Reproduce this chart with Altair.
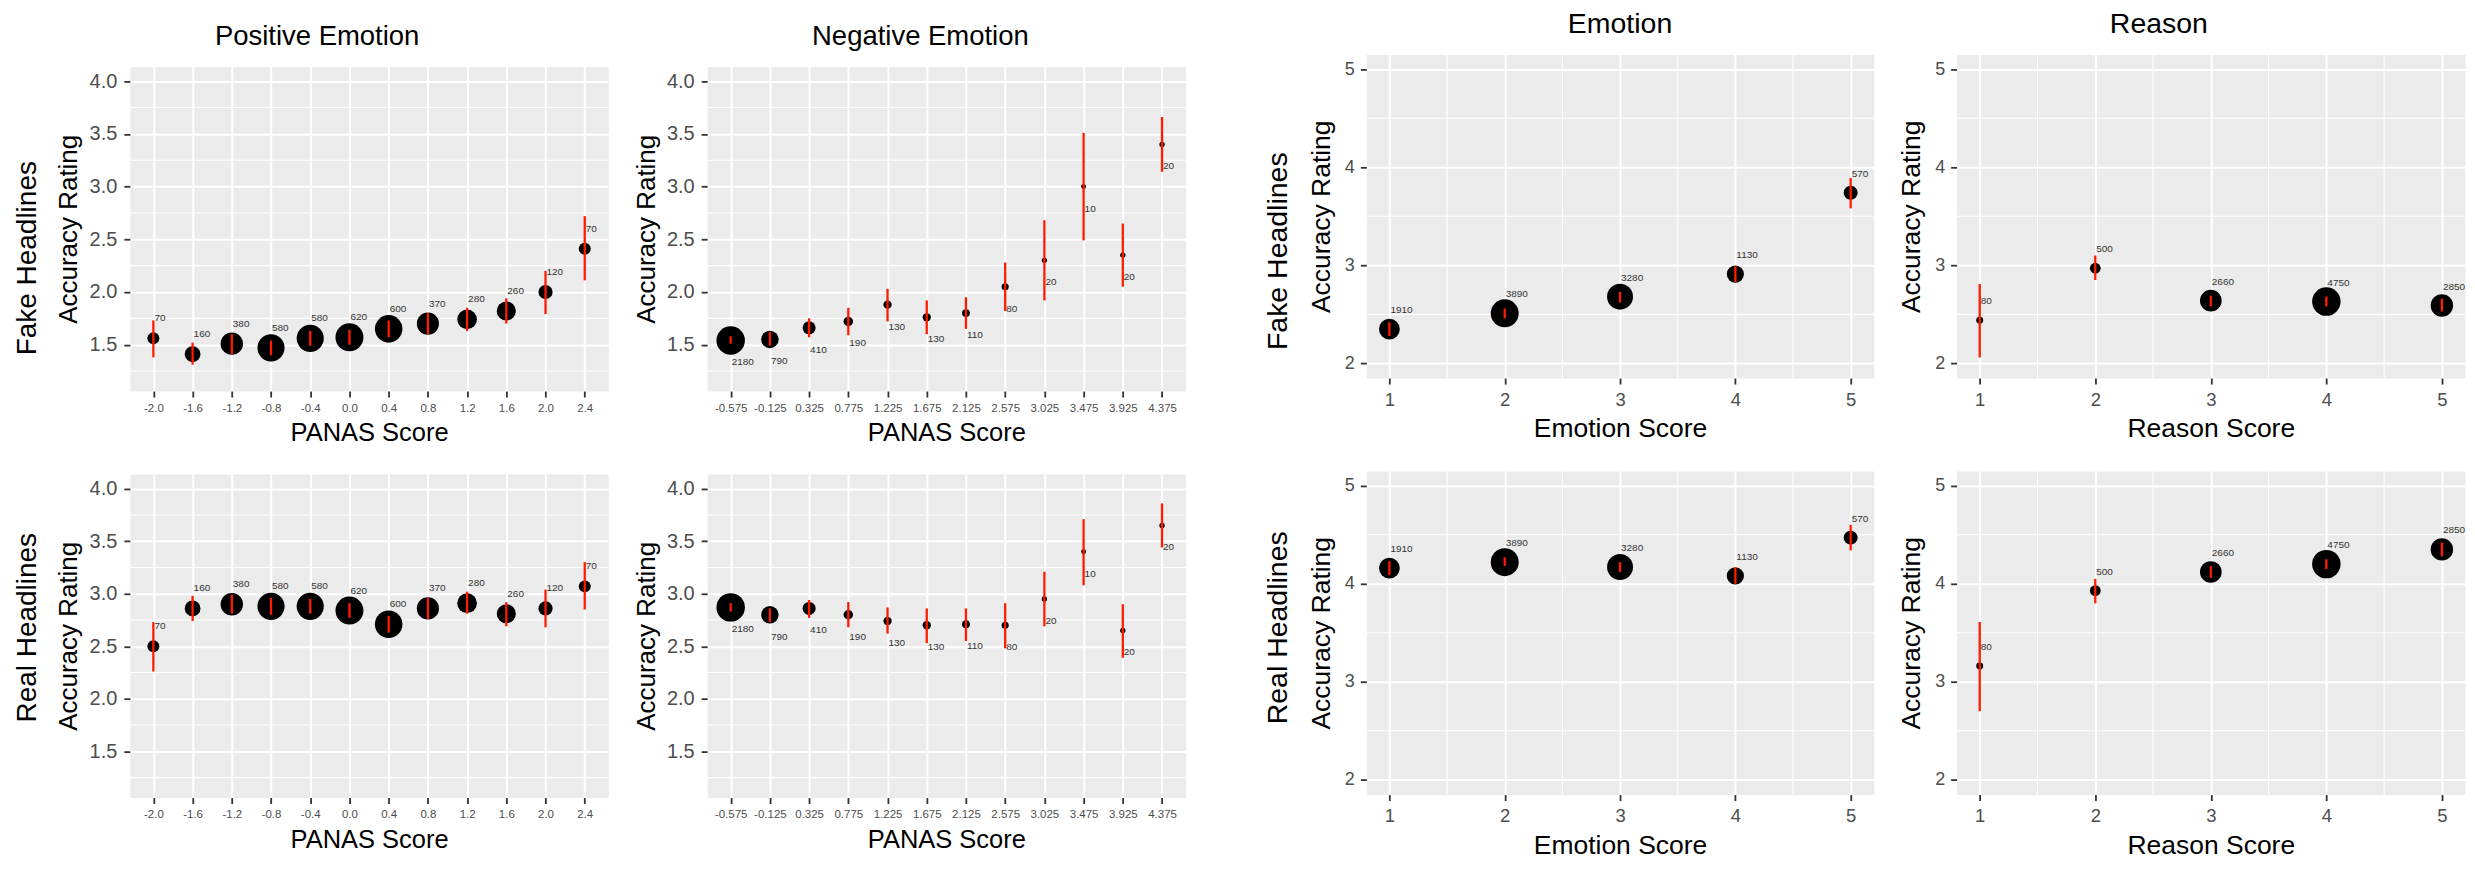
import altair as alt
import pandas as pd

FONT = "Liberation Sans"

# ---------------- data ----------------
pos_x = ["-2.0", "-1.6", "-1.2", "-0.8", "-0.4", "0.0", "0.4", "0.8", "1.2", "1.6", "2.0", "2.4"]
pos_n = [70, 160, 380, 580, 580, 620, 600, 370, 280, 260, 120, 70]
pos_fake_mean = [1.56, 1.41, 1.51, 1.47, 1.56, 1.57, 1.65, 1.70, 1.74, 1.82, 2.00, 2.41]
pos_fake_lo = [1.38, 1.31, 1.41, 1.40, 1.49, 1.50, 1.57, 1.60, 1.63, 1.70, 1.79, 2.11]
pos_fake_hi = [1.73, 1.52, 1.60, 1.54, 1.63, 1.64, 1.73, 1.80, 1.85, 1.94, 2.20, 2.72]
pos_real_mean = [2.50, 2.86, 2.90, 2.88, 2.88, 2.84, 2.71, 2.86, 2.91, 2.81, 2.86, 3.07]
pos_real_lo = [2.26, 2.74, 2.81, 2.80, 2.81, 2.77, 2.63, 2.76, 2.81, 2.69, 2.68, 2.85]
pos_real_hi = [2.73, 2.98, 2.99, 2.96, 2.95, 2.91, 2.79, 2.96, 3.02, 2.92, 3.04, 3.30]

neg_x = ["-0.575", "-0.125", "0.325", "0.775", "1.225", "1.675", "2.125", "2.575", "3.025", "3.475", "3.925", "4.375"]
neg_n = [2180, 790, 410, 190, 130, 130, 110, 80, 20, 10, 20, 20]
neg_fake_mean = [1.54, 1.55, 1.66, 1.72, 1.88, 1.76, 1.80, 2.05, 2.30, 3.00, 2.35, 3.40]
neg_fake_lo = [1.51, 1.49, 1.57, 1.59, 1.72, 1.60, 1.65, 1.82, 1.92, 2.49, 2.05, 3.14]
neg_fake_hi = [1.58, 1.62, 1.75, 1.85, 2.03, 1.92, 1.95, 2.28, 2.68, 3.51, 2.65, 3.66]
neg_real_mean = [2.87, 2.80, 2.86, 2.80, 2.74, 2.70, 2.71, 2.70, 2.95, 3.40, 2.65, 3.65]
neg_real_lo = [2.83, 2.73, 2.77, 2.68, 2.62, 2.53, 2.55, 2.48, 2.69, 3.08, 2.39, 3.44]
neg_real_hi = [2.91, 2.86, 2.94, 2.92, 2.87, 2.86, 2.86, 2.91, 3.21, 3.71, 2.90, 3.86]

score_x = [1, 2, 3, 4, 5]
emo_n = [1910, 3890, 3280, 1130, 570]
emo_fake_mean = [2.35, 2.51, 2.68, 2.91, 3.74]
emo_fake_lo = [2.28, 2.46, 2.62, 2.83, 3.58]
emo_fake_hi = [2.42, 2.56, 2.73, 2.99, 3.89]
emo_real_mean = [4.16, 4.22, 4.17, 4.08, 4.47]
emo_real_lo = [4.09, 4.18, 4.12, 4.00, 4.34]
emo_real_hi = [4.23, 4.27, 4.22, 4.17, 4.60]

rea_n = [80, 500, 2660, 4750, 2850]
rea_fake_mean = [2.44, 2.97, 2.64, 2.63, 2.59]
rea_fake_lo = [2.06, 2.85, 2.58, 2.58, 2.53]
rea_fake_hi = [2.81, 3.10, 2.69, 2.68, 2.66]
rea_real_mean = [3.16, 3.93, 4.12, 4.20, 4.35]
rea_real_lo = [2.70, 3.80, 4.06, 4.15, 4.28]
rea_real_hi = [3.61, 4.05, 4.18, 4.25, 4.42]

row_labels = ["Fake Headlines", "Real Headlines"]
col_titles = ["Positive Emotion", "Negative Emotion", "Emotion", "Reason"]
x_titles = ["PANAS Score", "PANAS Score", "Emotion Score", "Reason Score"]
y_title = "Accuracy Rating"

left_y_ticks = [1.5, 2.0, 2.5, 3.0, 3.5, 4.0]
left_y_minor = [1.25, 1.75, 2.25, 2.75, 3.25, 3.75]
right_y_ticks = [2, 3, 4, 5]
right_y_minor = [2.5, 3.5, 4.5]
right_x_minor = [1.5, 2.5, 3.5, 4.5]

# ---------------- styling ----------------
BG = "#EBEBEB"
GRID = "#FFFFFF"
ERR = "#FF1A00"

STYLE = {
    "left": dict(xtick=11.5, xpad=5, xtitle=25.5, xtitle_y=50, ytick=20, ypad=7,
                 ytitle=26, ytitle_x=-61, row=28, row_x=-102, title=27.5),
    "right": dict(xtick=18.5, xpad=6, xtitle=26.5, xtitle_y=59, ytick=18, ypad=6,
                  ytitle=26.5, ytitle_x=-45, row=28.5, row_x=-88, title=28.5),
}

TRANSPARENT_VIEW = alt.ViewBackground(fill="transparent", stroke="transparent")


def panel(xv, ordinal, n, m, lo, hi, size_range, label_dy, y_dom, y_ticks, y_fmt,
          y_minor, x_minor, x_title, w, h, side, row_label=None, row_y=0):
    st = STYLE[side]
    df = pd.DataFrame({"x": xv, "n": n, "m": m, "lo": lo, "hi": hi})

    xa = dict(title=x_title, labelAngle=0, labelFont=FONT, labelFontSize=st["xtick"],
              labelColor="#4D4D4D", labelPadding=st["xpad"], labelOverlap=False,
              tickSize=6, tickWidth=1.8, tickColor="#333333", domain=False,
              grid=True, gridColor=GRID, gridWidth=2,
              titleFont=FONT, titleFontSize=st["xtitle"], titleFontWeight="normal",
              titleColor="#000000", titleY=st["xtitle_y"], titleBaseline="alphabetic")
    if not ordinal:
        xa["values"] = score_x
        xa["format"] = "d"
    x_axis = alt.Axis(**xa)

    y_axis = alt.Axis(title=y_title, values=y_ticks, format=y_fmt, labelFont=FONT,
                      labelFontSize=st["ytick"], labelColor="#4D4D4D",
                      labelPadding=st["ypad"], tickSize=6, tickWidth=1.8,
                      tickColor="#333333", domain=False, grid=True, gridColor=GRID,
                      gridWidth=2, titleFont=FONT, titleFontSize=st["ytitle"],
                      titleFontWeight="normal", titleColor="#000000",
                      titleX=st["ytitle_x"], titleY=h / 2, titleAngle=270,
                      titleBaseline="middle", titleAlign="center")

    if ordinal:
        x_scale = alt.Scale(type="point", padding=0.6)

        def X():
            return alt.X("x:O", sort=list(xv), scale=x_scale, axis=x_axis)
    else:
        x_scale = alt.Scale(domain=[0.8, 5.2], nice=False, zero=False)

        def X():
            return alt.X("x:Q", scale=x_scale, axis=x_axis)

    y_scale = alt.Scale(domain=y_dom, nice=False, zero=False)

    def Y(field):
        return alt.Y(f"{field}:Q", scale=y_scale, axis=y_axis)

    layers = [alt.Chart(pd.DataFrame({"v": y_minor})).mark_rule(
        color=GRID, strokeWidth=1.1).encode(y=Y("v"))]
    if x_minor:
        layers.append(alt.Chart(pd.DataFrame({"v": x_minor})).mark_rule(
            color=GRID, strokeWidth=1.1).encode(x=alt.X("v:Q", scale=x_scale, axis=x_axis)))

    base = alt.Chart(df)
    layers.append(base.mark_circle(color="black", opacity=1).encode(
        x=X(), y=Y("m"),
        size=alt.Size("n:Q", scale=alt.Scale(domain=[min(n), max(n)], range=size_range),
                      legend=None)))
    layers.append(base.mark_rule(color=ERR, strokeWidth=2.3).encode(
        x=X(), y=Y("lo"), y2="hi:Q"))
    layers.append(base.mark_text(align="left", baseline="middle", dx=1, dy=label_dy,
                                 font=FONT, fontSize=10, color="#333333").encode(
        x=X(), y=Y("m"), text=alt.Text("n:Q", format="d")))
    if row_label:
        layers.append(alt.Chart(pd.DataFrame({"t": [row_label]})).mark_text(
            angle=270, align="center", baseline="middle", font=FONT,
            fontSize=st["row"], color="#000000").encode(
            x=alt.value(st["row_x"]), y=alt.value(row_y), text="t:N"))

    return alt.layer(*layers).properties(
        width=w, height=h, view=alt.ViewBackground(fill=BG, stroke="transparent"))


spacer_df = pd.DataFrame({"s": [0]})


def spacer(w, h):
    return alt.Chart(spacer_df).mark_point(opacity=0, size=1).encode(
        x=alt.X("s:Q", axis=None), y=alt.Y("s:Q", axis=None)).properties(
        width=w, height=h, view=TRANSPARENT_VIEW)


def title_cell(text, w, h, cx, base_y, fs):
    return alt.Chart(pd.DataFrame({"t": [text]})).mark_text(
        align="center", baseline="alphabetic", font=FONT, fontSize=fs,
        color="#000000").encode(
        x=alt.value(cx), y=alt.value(base_y), text="t:N").properties(
        width=w, height=h, view=TRANSPARENT_VIEW)


L_DOM = [1.06, 4.14]
R_DOM = [1.85, 5.15]

p1a = panel(pos_x, True, pos_n, pos_fake_mean, pos_fake_lo, pos_fake_hi, [144, 784], -20,
            L_DOM, left_y_ticks, ".1f", left_y_minor, None, x_titles[0], 479, 325, "left",
            row_label=row_labels[0], row_y=192)
p2a = panel(neg_x, True, neg_n, neg_fake_mean, neg_fake_lo, neg_fake_hi, [25, 812], 22,
            L_DOM, left_y_ticks, ".1f", left_y_minor, None, x_titles[1], 479, 325, "left")
p3a = panel(score_x, False, emo_n, emo_fake_mean, emo_fake_lo, emo_fake_hi, [196, 784], -19,
            R_DOM, right_y_ticks, "d", right_y_minor, right_x_minor, x_titles[2], 508, 324, "right",
            row_label=row_labels[0], row_y=197)
p4a = panel(score_x, False, rea_n, rea_fake_mean, rea_fake_lo, rea_fake_hi, [49, 812], -19,
            R_DOM, right_y_ticks, "d", right_y_minor, right_x_minor, x_titles[3], 509, 324, "right")

p1b = panel(pos_x, True, pos_n, pos_real_mean, pos_real_lo, pos_real_hi, [144, 784], -20,
            L_DOM, left_y_ticks, ".1f", left_y_minor, None, x_titles[0], 479, 324, "left",
            row_label=row_labels[1], row_y=154)
p2b = panel(neg_x, True, neg_n, neg_real_mean, neg_real_lo, neg_real_hi, [25, 812], 22,
            L_DOM, left_y_ticks, ".1f", left_y_minor, None, x_titles[1], 479, 324, "left")
p3b = panel(score_x, False, emo_n, emo_real_mean, emo_real_lo, emo_real_hi, [196, 784], -19,
            R_DOM, right_y_ticks, "d", right_y_minor, right_x_minor, x_titles[2], 508, 324, "right",
            row_label=row_labels[1], row_y=157)
p4b = panel(score_x, False, rea_n, rea_real_mean, rea_real_lo, rea_real_hi, [49, 812], -19,
            R_DOM, right_y_ticks, "d", right_y_minor, right_x_minor, x_titles[3], 509, 324, "right")

# ---- left figure: columns [gutter, P+, gap, P-], rows [titles, fake, gap, real]
LW = [121, 479, 99, 479]
LH = [54, 325, 83, 324]
left_cells = [
    spacer(LW[0], LH[0]), title_cell(col_titles[0], LW[1], LH[0], 187.5, 32.7, STYLE["left"]["title"]),
    spacer(LW[2], LH[0]), title_cell(col_titles[1], LW[3], LH[0], 213.5, 32.7, STYLE["left"]["title"]),
    spacer(LW[0], LH[1]), p1a, spacer(LW[2], LH[1]), p2a,
    spacer(LW[0], LH[2]), spacer(LW[1], LH[2]), spacer(LW[2], LH[2]), spacer(LW[3], LH[2]),
    spacer(LW[0], LH[3]), p1b, spacer(LW[2], LH[3]), p2b,
]
left = alt.concat(*left_cells, columns=4, spacing=0, bounds="flush",
                  align="none").resolve_scale(size="independent")

# ---- right figure: columns [gutter, Emotion, gap, Reason], rows [titles, fake, gap, real]
RW = [178, 508, 83, 509]
RH = [42, 324, 93, 324]
right_cells = [
    spacer(RW[0], RH[0]), title_cell(col_titles[2], RW[1], RH[0], 254, 20.3, STYLE["right"]["title"]),
    spacer(RW[2], RH[0]), title_cell(col_titles[3], RW[3], RH[0], 202.5, 20.3, STYLE["right"]["title"]),
    spacer(RW[0], RH[1]), p3a, spacer(RW[2], RH[1]), p4a,
    spacer(RW[0], RH[2]), spacer(RW[1], RH[2]), spacer(RW[2], RH[2]), spacer(RW[3], RH[2]),
    spacer(RW[0], RH[3]), p3b, spacer(RW[2], RH[3]), p4b,
]
right = alt.concat(*right_cells, columns=4, spacing=0, bounds="flush",
                   align="none").resolve_scale(size="independent")

chart = alt.hconcat(left, right, spacing=0).resolve_scale(size="independent").properties(
    padding=0, background="white").configure(font=FONT)

chart.save("out.html", embed_options={"renderer": "svg", "actions": False})
